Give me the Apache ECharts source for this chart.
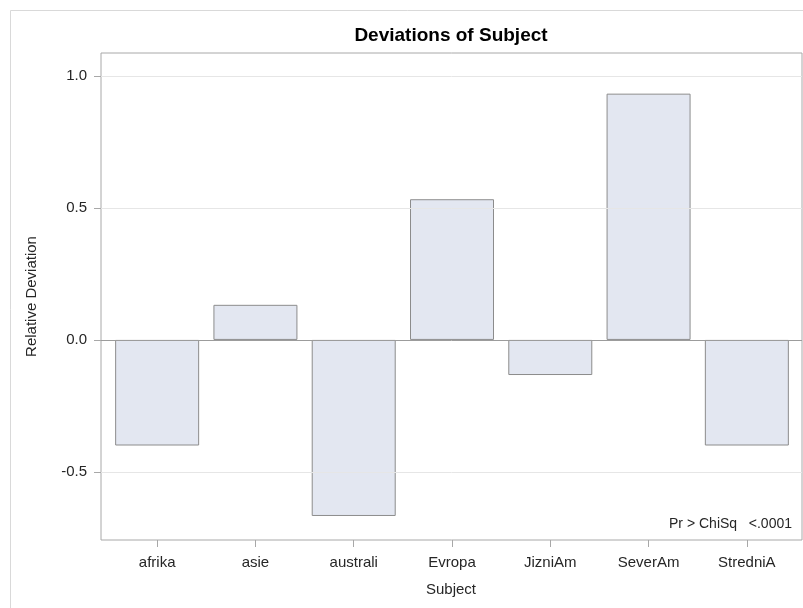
<!DOCTYPE html>
<html>
<head>
<meta charset="utf-8">
<script src="https://cdn.jsdelivr.net/npm/echarts@6/dist/echarts.min.js"></script>
<style>
  html, body { margin: 0; padding: 0; background: #fff; }
  #chart { width: 803px; height: 608px; }
</style>
</head>
<body>
<div id="chart"></div>
<script>
// Relative deviation of observed vs. expected counts per subject
const categories = ['afrika', 'asie', 'australi', 'Evropa', 'JizniAm', 'SeverAm', 'StredniA'];
const deviations = [-0.4, 0.133, -0.667, 0.533, -0.133, 0.933, -0.4];
const yTicks = [-0.5, 0.0, 0.5, 1.0];
const yMin = -0.758;
const yMax = 1.087;
const titleText = 'Deviations of Subject';
const xName = 'Subject';
const yName = 'Relative Deviation';
const statText = 'Pr > ChiSq   <.0001';

const FONT = '"Liberation Sans", Arial, sans-serif';
const TEXT = '#262626';
const FRAME = '#a8a8a8';

const chart = echarts.init(document.getElementById('chart'), null, { renderer: 'canvas' });

const option = {
  backgroundColor: '#ffffff',
  animation: false,
  textStyle: { fontFamily: FONT },
  grid: [
    // outer plot frame with the value axis
    { left: 101, top: 53, width: 701, height: 487, show: true, borderColor: FRAME, borderWidth: 1, backgroundColor: 'transparent' },
    // inset band area for the categories
    { left: 108, top: 53, width: 688, height: 487 }
  ],
  xAxis: [
    { gridIndex: 0, type: 'value', min: 0, max: 1, show: false },
    {
      gridIndex: 1, type: 'category', data: categories, position: 'bottom',
      axisLine: { show: false, onZero: false },
      axisTick: { show: true, alignWithLabel: true, length: 7, lineStyle: { color: FRAME } },
      axisLabel: { color: TEXT, fontSize: 15, margin: 15, fontFamily: FONT },
      splitLine: { show: false }
    }
  ],
  yAxis: [
    {
      gridIndex: 0, type: 'value', min: yMin, max: yMax,
      name: yName, nameLocation: 'middle', nameGap: 62,
      nameTextStyle: { color: TEXT, fontSize: 15, fontFamily: FONT },
      axisLine: { show: false },
      axisTick: { show: true, customValues: yTicks, length: 7, lineStyle: { color: FRAME } },
      axisLabel: { show: true, customValues: yTicks, color: TEXT, fontSize: 15, margin: 14, fontFamily: FONT,
                   formatter: v => v.toFixed(1) },
      splitLine: { show: false }
    },
    { gridIndex: 1, type: 'value', min: yMin, max: yMax, show: false }
  ],
  graphic: [
    { type: 'rect', shape: { x: 10.5, y: 10.5, width: 900, height: 700 },
      style: { fill: 'none', stroke: '#d9d9d9', lineWidth: 1 }, silent: true, z: -10 },
    { type: 'text', x: 451, y: 36,
      style: { text: titleText, fill: '#000', font: 'bold 19px ' + FONT, align: 'center', verticalAlign: 'middle' } },
    { type: 'text', x: 451, y: 590,
      style: { text: xName, fill: TEXT, font: '15px ' + FONT, align: 'center', verticalAlign: 'middle' } },
    { type: 'text', x: 792, y: 524,
      style: { text: statText, fill: TEXT, font: '14px ' + FONT, align: 'right', verticalAlign: 'middle' } }
  ],
  series: [
    {
      // horizontal reference lines: grid lines and the zero line
      type: 'line', xAxisIndex: 0, yAxisIndex: 0, data: [], z: 1, silent: true,
      markLine: {
        silent: true, symbol: 'none', label: { show: false }, animation: false,
        data: yTicks.map(v => ({
          yAxis: v,
          lineStyle: v === 0 ? { color: '#9c9c9c', width: 1, type: 'solid' }
                             : { color: '#e6e6e6', width: 1, type: 'solid' }
        }))
      }
    },
    {
      type: 'bar', xAxisIndex: 1, yAxisIndex: 1, data: deviations, z: 3,
      barWidth: 84,
      itemStyle: { color: '#e3e7f1', borderColor: '#8c8c8c', borderWidth: 1 }
    }
  ]
};

chart.setOption(option);
</script>
</body>
</html>
